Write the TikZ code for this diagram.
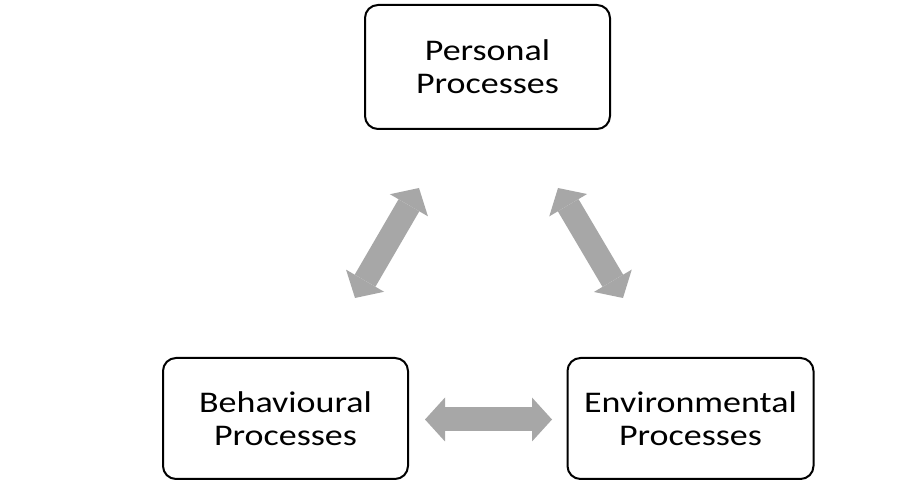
\documentclass[tikz,border=0pt]{standalone}
\usepackage{fontspec}
\setmainfont{Carlito}
\newfontfamily\boxfont[FakeStretch=1.2]{Carlito}
\usetikzlibrary{arrows.meta}
\definecolor{arrowgray}{RGB}{167,167,167}
\tikzset{
  procbox/.style={draw=black, line width=2pt, rounded corners=13pt, align=center,
    inner sep=0pt, font=\boxfont\fontsize{30}{33}\selectfont},
  bigarrow/.style={draw=arrowgray, line width=24pt,
    {Triangle[length=20pt,width=44pt,line width=0pt]}-{Triangle[length=20pt,width=44pt,line width=0pt]}}
}
\begin{document}
\begin{tikzpicture}[x=1pt,y=1pt]
\useasboundingbox (0,0) rectangle (915,481);
\node[procbox, minimum width=245pt, minimum height=124pt] (P) at (487.5,414) {Personal\\Processes};
\node[procbox, minimum width=245pt, minimum height=121pt] (B) at (285.5,62.5) {\raisebox{0pt}{Behavioural}\\Processes};
\node[procbox, minimum width=246pt, minimum height=121pt] (E) at (690.5,62.5) {Environmental\\Processes};
\coordinate (pl) at (419,293);
\coordinate (bl) at (355,183);
\coordinate (pr) at (558,293);
\coordinate (er) at (623,183);
\coordinate (bh) at (425,61.5);
\coordinate (eh) at (552,61.5);
\draw[bigarrow] (bl) -- (pl);
\draw[bigarrow] (pr) -- (er);
\draw[bigarrow] (bh) -- (eh);
\end{tikzpicture}
\end{document}
